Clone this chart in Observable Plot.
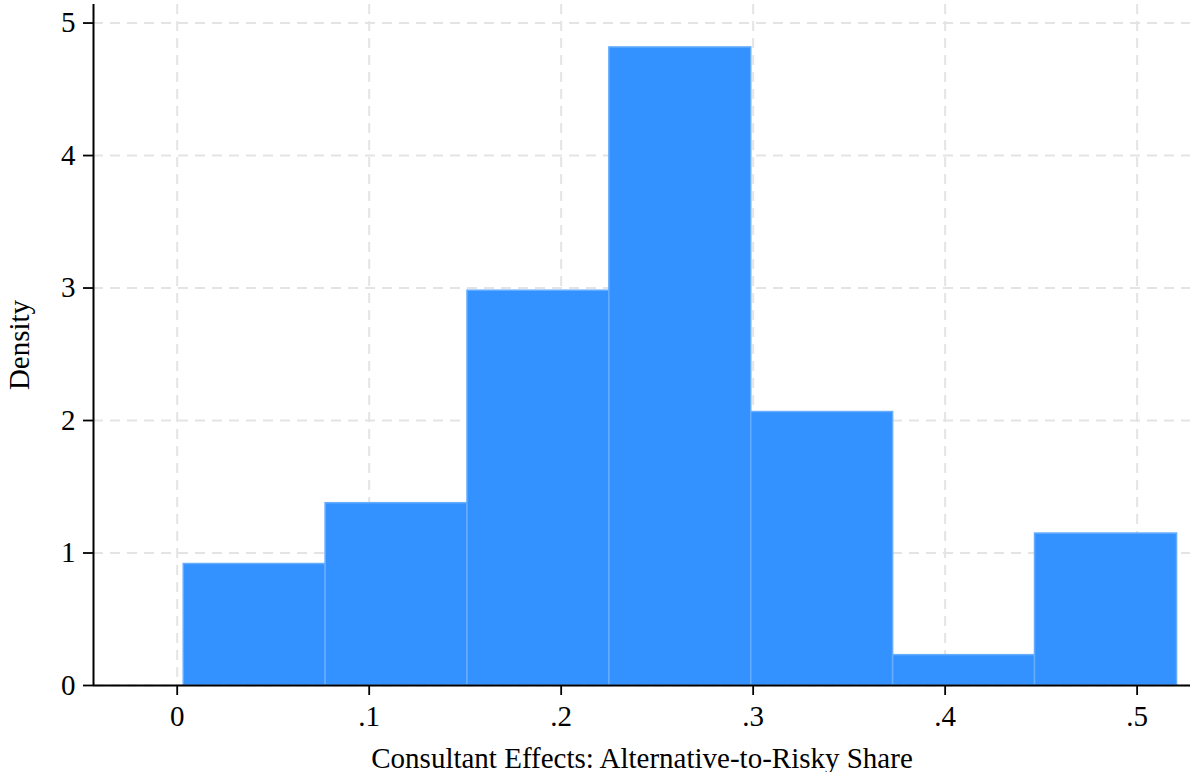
<!DOCTYPE html>
<html>
<head>
<meta charset="utf-8">
<script src="https://cdn.jsdelivr.net/npm/d3@7"></script>
<script src="https://cdn.jsdelivr.net/npm/@observablehq/plot@0.6"></script>
<style>
  html, body { margin: 0; padding: 0; background: #fff; }
  #chart svg { display: block; }
</style>
</head>
<body>
<div id="chart"></div>
<script>
// Histogram bin edges (Consultant Effects: Alternative-to-Risky Share)
const binEdges = [0.0034, 0.0773, 0.1512, 0.2251, 0.2990, 0.3729, 0.4468, 0.5208];
// Density height of each bin
const densities = [0.917, 1.376, 2.98, 4.816, 2.064, 0.229, 1.147];
// Axis ticks
const xTicks = [0, 0.1, 0.2, 0.3, 0.4, 0.5];
const yTicks = [0, 1, 2, 3, 4, 5];
const xDomain = [-0.0436, 0.5278];
const yDomain = [0, 5.14];

const bins = densities.map((d, i) => ({x1: binEdges[i], x2: binEdges[i + 1], y: d}));

const fmtX = d => d === 0 ? "0" : String(d).replace(/^0/, "");

const serif = "Liberation Serif, Times New Roman, serif";
const gridStyle = {stroke: "#e4e4e4", strokeOpacity: 1, strokeWidth: 2, strokeDasharray: "10,7"};

const chart = Plot.plot({
  width: 1190,
  height: 772,
  marginLeft: 93,
  marginRight: 0,
  marginTop: 4,
  marginBottom: 87,
  style: {fontFamily: serif, fontSize: "29px", color: "#000", background: "#fff"},
  x: {domain: xDomain},
  y: {domain: yDomain},
  marks: [
    Plot.gridX(xTicks, gridStyle),
    Plot.gridY(yTicks, gridStyle),
    Plot.rectY(bins, {x1: "x1", x2: "x2", y: "y", fill: "#3392ff", stroke: "#66adff", strokeWidth: 1.5}),
    Plot.ruleY([yDomain[0]], {stroke: "#000", strokeWidth: 2}),
    Plot.ruleX([xDomain[0]], {stroke: "#000", strokeWidth: 2}),
    Plot.axisX(xTicks, {
      tickSize: 10, tickPadding: 10, strokeWidth: 1.8, tickFormat: fmtX,
      label: "Consultant Effects: Alternative-to-Risky Share", labelAnchor: "center", labelArrow: "none",
      labelOffset: 82
    }),
    Plot.axisY(yTicks, {
      tickSize: 10, tickPadding: 8, strokeWidth: 1.8, tickFormat: d => String(d),
      label: "Density", labelAnchor: "center", labelArrow: "none",
      labelOffset: 85
    })
  ]
});

chart.querySelectorAll("text").forEach(t => {
  t.setAttribute("font-family", serif);
  t.style.fontFamily = serif;
});
chart.querySelectorAll("[aria-label='x-axis tick label'], [aria-label='y-axis tick label']").forEach(g => {
  g.setAttribute("font-size", "29px");
  g.querySelectorAll("text").forEach(t => { t.style.fontSize = "29px"; });
});
chart.querySelectorAll("[aria-label='x-axis label'], [aria-label='y-axis label']").forEach(g => {
  g.setAttribute("font-size", "29px");
  g.querySelectorAll("text").forEach(t => { t.style.fontSize = "29px"; });
});
document.getElementById("chart").appendChild(chart);
</script>
</body>
</html>
